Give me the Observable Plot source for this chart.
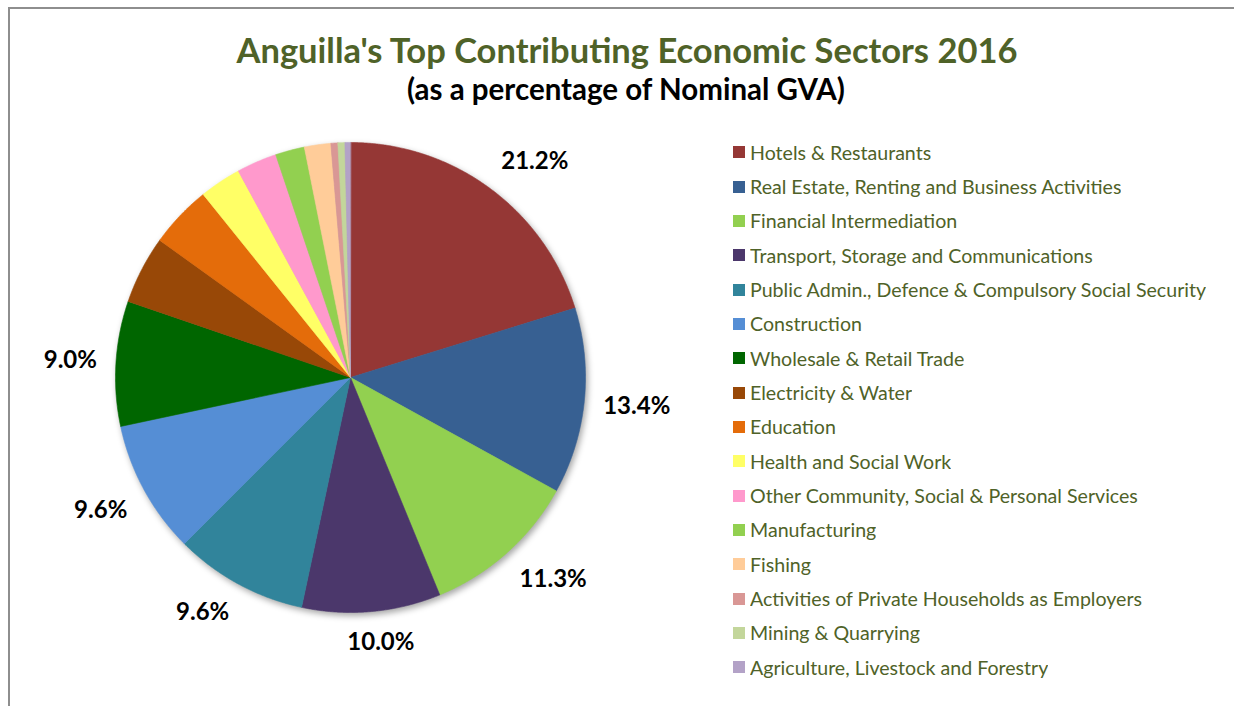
<!DOCTYPE html>
<html>
<head>
<meta charset="utf-8">
<script src="https://cdn.jsdelivr.net/npm/d3@7"></script>
<script src="https://cdn.jsdelivr.net/npm/@observablehq/plot@0.6"></script>
<style>
  html, body { margin: 0; padding: 0; background: #fff; }
  #page { position: relative; width: 1234px; height: 706px; overflow: hidden; background: #fff; font-family: Lato, "Open Sans", sans-serif; }
  #frame { position: absolute; left: 8px; top: 7px; width: 1300px; height: 800px; border-top: 2px solid #8e8e8e; border-left: 2px solid #8e8e8e; box-sizing: border-box; }
  #title { position: absolute; left: 0; width: 1254px; top: 29.6px; text-align: center; font: bold 34.5px Lato, sans-serif; color: #4F6228; white-space: nowrap; line-height: 40px; }
  #subtitle { position: absolute; left: 0; width: 1252px; top: 71.6px; text-align: center; font: bold 29.5px Lato, sans-serif; color: #000; white-space: nowrap; line-height: 34px; }
  #chart { position: absolute; left: 0; top: 0; }
  #legend { position: absolute; left: 733px; top: 135px; width: 500px; }
  #legend .lg-swatches { font: 19.6px Lato, sans-serif !important; color: #4F6228 !important; margin: 0 !important; columns: 1 !important; }
  #legend .lg-swatch { height: 34.35px; padding: 0 !important; margin: 0 !important; display: flex; align-items: center; }
  #legend .lg-swatch > svg { margin-right: 5px !important; }
</style>
</head>
<body>
<div id="page">
  <div id="frame"></div>
  <div id="chart"></div>
  <div id="title">Anguilla's Top Contributing Economic Sectors 2016</div>
  <div id="subtitle">(as a percentage of Nominal GVA)</div>
  <div id="legend"></div>
</div>
<script>
// ---- data ----
const sectors = [
  "Hotels & Restaurants",
  "Real Estate, Renting and Business Activities",
  "Financial Intermediation",
  "Transport, Storage and Communications",
  "Public Admin., Defence & Compulsory Social Security",
  "Construction",
  "Wholesale & Retail Trade",
  "Electricity & Water",
  "Education",
  "Health and Social Work",
  "Other Community, Social & Personal Services",
  "Manufacturing",
  "Fishing",
  "Activities of Private Households as Employers",
  "Mining & Quarrying",
  "Agriculture, Livestock and Forestry"
];
const shares = [21.2, 13.4, 11.3, 10.0, 9.6, 9.6, 9.0, 4.9, 4.5, 3.0, 2.9, 2.1, 1.9, 0.5, 0.5, 0.4];
const colors = [
  "#953735", "#376092", "#92D050", "#4B376B", "#31849B", "#558ED5", "#006600", "#984807",
  "#E46C0A", "#FFFF66", "#FF99CC", "#92D050", "#FFCC99", "#D99795", "#C3D69B", "#B3A2C7"
];
const labelThreshold = 5; // only slices of at least 5% carry a label

// ---- geometry (derived from the data) ----
const cx = 350, cy = 377, R = 235;
const rows = sectors.map((s, i) => ({sector: s, share: shares[i]}));
const arcs = d3.pie().sort(null).value(d => d.share)(rows);

const polyPts = arcs.flatMap(a => {
  const n = Math.max(2, Math.ceil((a.endAngle - a.startAngle) / 0.005));
  const pts = [{sector: a.data.sector, x: 0, y: 0}];
  for (let i = 0; i <= n; i++) {
    const t = a.startAngle + (a.endAngle - a.startAngle) * i / n;
    pts.push({sector: a.data.sector, x: Math.sin(t), y: Math.cos(t)});
  }
  return pts;
});

const labelSize = 24;
const ctx = document.createElement("canvas").getContext("2d");
ctx.font = `bold ${labelSize}px Lato`;
const clamp = v => Math.max(-1, Math.min(1, v));
const labelRows = arcs.filter(a => a.data.share >= labelThreshold).map(a => {
  const m = (a.startAngle + a.endAngle) / 2;
  const txt = a.data.share.toFixed(1) + "%";
  const w = ctx.measureText(txt).width, h = 24;
  const rr = 254 / R;
  const ux = Math.sin(m), uy = Math.cos(m);
  return {
    text: txt,
    x: rr * ux + clamp(ux / 0.4) * (w / 2) / R,
    y: rr * uy + clamp(uy / 0.4) * (h / 2) / R
  };
});

const chart = Plot.plot({
  width: 1234,
  height: 706,
  margin: 0,
  x: {domain: [-1, 1], range: [cx - R, cx + R], axis: null},
  y: {domain: [-1, 1], range: [cy + R, cy - R], axis: null},
  color: {domain: sectors, range: colors},
  style: {background: "transparent", overflow: "visible"},
  marks: [
    Plot.line(polyPts, {x: "x", y: "y", z: "sector", fill: "sector", stroke: "sector", strokeWidth: 0.6, curve: "linear-closed"}),
    Plot.text(labelRows, {x: "x", y: "y", text: "text", fill: "#000", fontSize: labelSize, fontWeight: "bold", fontFamily: "Lato", textAnchor: "middle", lineAnchor: "middle"})
  ]
});
const g = chart.querySelector('g[aria-label="line"]');
if (g) g.style.filter = "drop-shadow(2px 3px 3px rgba(0,0,0,0.35))";
document.getElementById("chart").appendChild(chart);

const legend = Plot.legend({
  color: {domain: sectors, range: colors},
  legend: "swatches",
  columns: 1,
  swatchSize: 12,
  className: "lg"
});
document.getElementById("legend").appendChild(legend);
</script>
</body>
</html>
